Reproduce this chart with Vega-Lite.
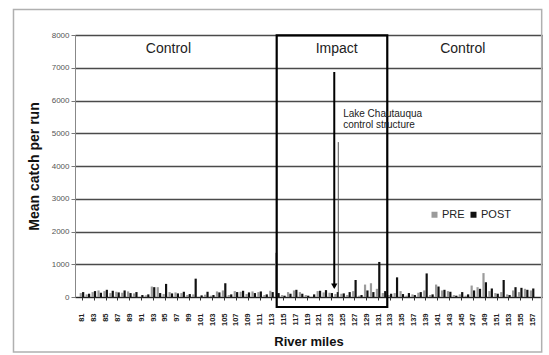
{
  "$schema": "https://vega.github.io/schema/vega-lite/v6.json",
  "width": 467,
  "height": 262,
  "autosize": {"type": "none"},
  "padding": {"left": 75, "top": 35, "right": 7, "bottom": 58},
  "background": "white",
  "config": {"view": {"stroke": "#9a9a9a", "strokeWidth": 1}, "font": "Liberation Sans"},
  "data": {"values": [
    {"mile":81,"series":"PRE","value":120},{"mile":81,"series":"POST","value":150},
    {"mile":82,"series":"PRE","value":80},{"mile":82,"series":"POST","value":100},
    {"mile":83,"series":"PRE","value":150},{"mile":83,"series":"POST","value":180},
    {"mile":84,"series":"PRE","value":200},{"mile":84,"series":"POST","value":130},
    {"mile":85,"series":"PRE","value":180},{"mile":85,"series":"POST","value":220},
    {"mile":86,"series":"PRE","value":120},{"mile":86,"series":"POST","value":190},
    {"mile":87,"series":"PRE","value":160},{"mile":87,"series":"POST","value":140},
    {"mile":88,"series":"PRE","value":130},{"mile":88,"series":"POST","value":200},
    {"mile":89,"series":"PRE","value":170},{"mile":89,"series":"POST","value":120},
    {"mile":90,"series":"PRE","value":110},{"mile":90,"series":"POST","value":150},
    {"mile":91,"series":"PRE","value":0},{"mile":91,"series":"POST","value":60},
    {"mile":92,"series":"PRE","value":50},{"mile":92,"series":"POST","value":80},
    {"mile":93,"series":"PRE","value":320},{"mile":93,"series":"POST","value":300},
    {"mile":94,"series":"PRE","value":300},{"mile":94,"series":"POST","value":120},
    {"mile":95,"series":"PRE","value":90},{"mile":95,"series":"POST","value":400},
    {"mile":96,"series":"PRE","value":150},{"mile":96,"series":"POST","value":110},
    {"mile":97,"series":"PRE","value":140},{"mile":97,"series":"POST","value":110},
    {"mile":98,"series":"PRE","value":120},{"mile":98,"series":"POST","value":160},
    {"mile":99,"series":"PRE","value":60},{"mile":99,"series":"POST","value":90},
    {"mile":100,"series":"PRE","value":80},{"mile":100,"series":"POST","value":560},
    {"mile":101,"series":"PRE","value":0},{"mile":101,"series":"POST","value":50},
    {"mile":102,"series":"PRE","value":70},{"mile":102,"series":"POST","value":160},
    {"mile":103,"series":"PRE","value":40},{"mile":103,"series":"POST","value":60},
    {"mile":104,"series":"PRE","value":170},{"mile":104,"series":"POST","value":140},
    {"mile":105,"series":"PRE","value":200},{"mile":105,"series":"POST","value":420},
    {"mile":106,"series":"PRE","value":60},{"mile":106,"series":"POST","value":80},
    {"mile":107,"series":"PRE","value":180},{"mile":107,"series":"POST","value":150},
    {"mile":108,"series":"PRE","value":160},{"mile":108,"series":"POST","value":190},
    {"mile":109,"series":"PRE","value":90},{"mile":109,"series":"POST","value":140},
    {"mile":110,"series":"PRE","value":170},{"mile":110,"series":"POST","value":120},
    {"mile":111,"series":"PRE","value":150},{"mile":111,"series":"POST","value":170},
    {"mile":112,"series":"PRE","value":60},{"mile":112,"series":"POST","value":80},
    {"mile":113,"series":"PRE","value":190},{"mile":113,"series":"POST","value":150},
    {"mile":114,"series":"PRE","value":1350},{"mile":114,"series":"POST","value":120},
    {"mile":115,"series":"PRE","value":60},{"mile":115,"series":"POST","value":40},
    {"mile":116,"series":"PRE","value":150},{"mile":116,"series":"POST","value":100},
    {"mile":117,"series":"PRE","value":200},{"mile":117,"series":"POST","value":220},
    {"mile":118,"series":"PRE","value":150},{"mile":118,"series":"POST","value":100},
    {"mile":119,"series":"PRE","value":60},{"mile":119,"series":"POST","value":40},
    {"mile":120,"series":"PRE","value":0},{"mile":120,"series":"POST","value":80},
    {"mile":121,"series":"PRE","value":180},{"mile":121,"series":"POST","value":190},
    {"mile":122,"series":"PRE","value":140},{"mile":122,"series":"POST","value":210},
    {"mile":123,"series":"PRE","value":130},{"mile":123,"series":"POST","value":120},
    {"mile":124,"series":"PRE","value":90},{"mile":124,"series":"POST","value":150},
    {"mile":125,"series":"PRE","value":100},{"mile":125,"series":"POST","value":110},
    {"mile":126,"series":"PRE","value":60},{"mile":126,"series":"POST","value":150},
    {"mile":127,"series":"PRE","value":180},{"mile":127,"series":"POST","value":520},
    {"mile":128,"series":"PRE","value":40},{"mile":128,"series":"POST","value":60},
    {"mile":129,"series":"PRE","value":380},{"mile":129,"series":"POST","value":200},
    {"mile":130,"series":"PRE","value":420},{"mile":130,"series":"POST","value":150},
    {"mile":131,"series":"PRE","value":250},{"mile":131,"series":"POST","value":1070},
    {"mile":132,"series":"PRE","value":120},{"mile":132,"series":"POST","value":180},
    {"mile":133,"series":"PRE","value":60},{"mile":133,"series":"POST","value":100},
    {"mile":134,"series":"PRE","value":120},{"mile":134,"series":"POST","value":600},
    {"mile":135,"series":"PRE","value":180},{"mile":135,"series":"POST","value":90},
    {"mile":136,"series":"PRE","value":40},{"mile":136,"series":"POST","value":120},
    {"mile":137,"series":"PRE","value":80},{"mile":137,"series":"POST","value":60},
    {"mile":138,"series":"PRE","value":130},{"mile":138,"series":"POST","value":150},
    {"mile":139,"series":"PRE","value":200},{"mile":139,"series":"POST","value":720},
    {"mile":140,"series":"PRE","value":60},{"mile":140,"series":"POST","value":80},
    {"mile":141,"series":"PRE","value":380},{"mile":141,"series":"POST","value":320},
    {"mile":142,"series":"PRE","value":200},{"mile":142,"series":"POST","value":220},
    {"mile":143,"series":"PRE","value":180},{"mile":143,"series":"POST","value":160},
    {"mile":144,"series":"PRE","value":60},{"mile":144,"series":"POST","value":40},
    {"mile":145,"series":"PRE","value":80},{"mile":145,"series":"POST","value":150},
    {"mile":146,"series":"PRE","value":40},{"mile":146,"series":"POST","value":80},
    {"mile":147,"series":"PRE","value":350},{"mile":147,"series":"POST","value":200},
    {"mile":148,"series":"PRE","value":300},{"mile":148,"series":"POST","value":250},
    {"mile":149,"series":"PRE","value":730},{"mile":149,"series":"POST","value":450},
    {"mile":150,"series":"PRE","value":180},{"mile":150,"series":"POST","value":260},
    {"mile":151,"series":"PRE","value":120},{"mile":151,"series":"POST","value":100},
    {"mile":152,"series":"PRE","value":150},{"mile":152,"series":"POST","value":520},
    {"mile":153,"series":"PRE","value":80},{"mile":153,"series":"POST","value":60},
    {"mile":154,"series":"PRE","value":200},{"mile":154,"series":"POST","value":300},
    {"mile":155,"series":"PRE","value":150},{"mile":155,"series":"POST","value":280},
    {"mile":156,"series":"PRE","value":250},{"mile":156,"series":"POST","value":220},
    {"mile":157,"series":"PRE","value":200},{"mile":157,"series":"POST","value":260}
  ]},
  "encoding": {
    "x": {
      "field": "mile", "type": "quantitative",
      "scale": {"domain": [80.67, 157.83], "nice": false, "zero": false},
      "axis": {
        "values": [81,83,85,87,89,91,93,95,97,99,101,103,105,107,109,111,113,115,117,119,121,123,125,127,129,131,133,135,137,139,141,143,145,147,149,151,153,155,157],
        "title": "River miles", "grid": false,
        "labelAngle": 270, "labelAlign": "right", "labelBaseline": "middle",
        "labelFontSize": 7.5, "labelFontWeight": "bold", "labelColor": "#222",
        "labelPadding": 13, "labelOverlap": false, "labelFlush": false,
        "tickSize": 3, "tickColor": "#333", "domainColor": "#222", "domainWidth": 1.2,
        "titleFontSize": 13, "titleFontWeight": "bold", "titleColor": "#111", "titlePadding": 10
      }
    },
    "y": {
      "field": "value", "type": "quantitative", "stack": null,
      "scale": {"domain": [0, 8000], "nice": false},
      "axis": {
        "values": [0,1000,2000,3000,4000,5000,6000,7000,8000], "format": "d",
        "title": "Mean catch per run", "grid": true, "gridColor": "#4a4a4a", "gridWidth": 1.3,
        "labelFontSize": 8, "labelColor": "#555", "labelPadding": 2,
        "tickSize": 4, "tickColor": "#777", "domainColor": "#888",
        "titleFontSize": 14, "titleFontWeight": "bold", "titleColor": "#111", "titlePadding": 10
      }
    }
  },
  "layer": [
    {
      "data": {"values": [{"mile": 69.44, "mile2": 158.62, "value": 8779, "value2": -1679}]},
      "mark": {"type": "rect", "filled": false, "stroke": "#b0b0b0", "strokeWidth": 1.5, "clip": false},
      "encoding": {"x2": {"field": "mile2"}, "y2": {"field": "value2"}}
    },
    {
      "transform": [{"filter": "datum.series == 'PRE'"}],
      "mark": {"type": "bar", "orient": "vertical", "size": 2.2, "xOffset": -1.2},
      "encoding": {
        "y2": {"datum": 0},
        "color": {"field": "series", "type": "nominal",
          "scale": {"domain": ["PRE", "POST"], "range": ["#9b9b9b", "#111111"]},
          "legend": {"title": null, "orient": "none", "legendX": 354, "legendY": 174, "direction": "horizontal",
            "symbolType": "square", "symbolSize": 36, "symbolStrokeWidth": 0,
            "labelFontSize": 11, "labelFont": "Liberation Sans", "labelColor": "#222",
            "labelOffset": 2, "columnPadding": 3}}
      }
    },
    {
      "transform": [{"filter": "datum.series == 'POST'"}],
      "mark": {"type": "bar", "orient": "vertical", "size": 2.2, "xOffset": 1.2},
      "encoding": {
        "y2": {"datum": 0},
        "color": {"field": "series", "type": "nominal",
          "scale": {"domain": ["PRE", "POST"], "range": ["#9b9b9b", "#111111"]}}
      }
    },
    {
      "data": {"values": [{"mile": 113.88, "mile2": 132.55, "value": 7990, "value2": -305}]},
      "mark": {"type": "rect", "filled": false, "stroke": "#000", "strokeWidth": 2.2, "clip": false},
      "encoding": {"x2": {"field": "mile2"}, "y2": {"field": "value2"}}
    },
    {
      "data": {"values": [{"mile": 123.6, "value": 6870, "value2": 300}]},
      "mark": {"type": "rule", "stroke": "#000", "strokeWidth": 2},
      "encoding": {"y2": {"field": "value2"}}
    },
    {
      "data": {"values": [{"mile": 124.28, "value": 4730, "value2": 0}]},
      "mark": {"type": "rule", "stroke": "#555", "strokeWidth": 1},
      "encoding": {"y2": {"field": "value2"}}
    },
    {
      "data": {"values": [{"mile": 123.6, "value": 330}]},
      "mark": {"type": "point", "shape": "triangle-down", "filled": true, "color": "#000", "size": 40, "opacity": 1},
      "encoding": {}
    },
    {
      "data": {"values": [
        {"mile": 95.6, "value": 7573, "label": "Control"},
        {"mile": 124.0, "value": 7573, "label": "Impact"},
        {"mile": 145.3, "value": 7573, "label": "Control"}
      ]},
      "mark": {"type": "text", "font": "Liberation Sans", "fontSize": 14, "color": "#222", "baseline": "middle", "align": "center"},
      "encoding": {"text": {"field": "label"}}
    },
    {
      "data": {"values": [
        {"mile": 125.1, "value": 5603, "label": "Lake Chautauqua"},
        {"mile": 125.1, "value": 5252, "label": "control structure"}
      ]},
      "mark": {"type": "text", "font": "Liberation Sans", "fontSize": 10, "color": "#222", "baseline": "middle", "align": "left"},
      "encoding": {"text": {"field": "label"}}
    }
  ]
}
